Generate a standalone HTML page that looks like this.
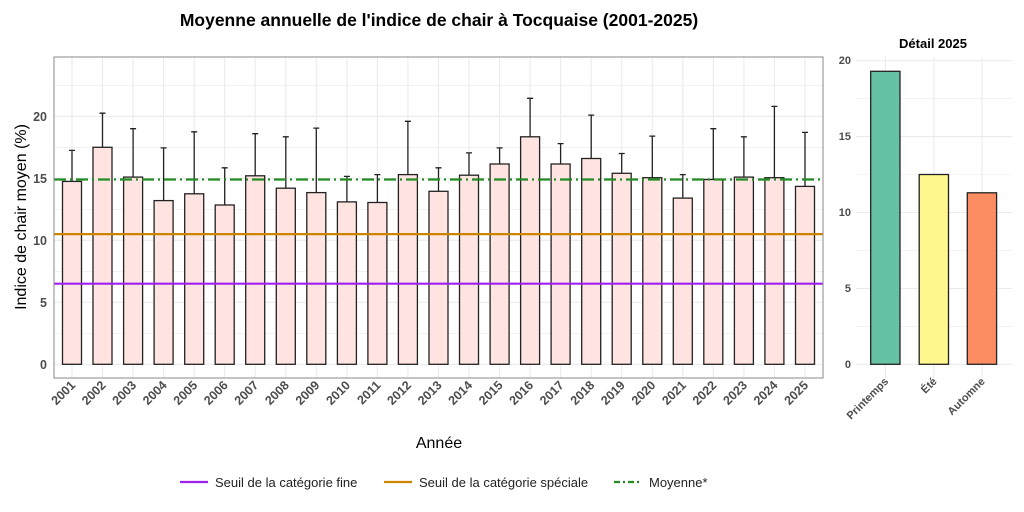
<!DOCTYPE html><html><head><meta charset="utf-8"><style>body{margin:0;background:#fff}svg{display:block;font-family:"Liberation Sans",Arial,sans-serif}</style></head><body>
<svg width="1024" height="512" viewBox="0 0 1024 512">
<text x="439" y="26" text-anchor="middle" font-size="17.5" font-weight="bold">Moyenne annuelle de l'indice de chair à Tocquaise (2001-2025)</text>
<g stroke="#ebebeb" stroke-width="0.6">
<line x1="54" x2="823" y1="333.3" y2="333.3"/><line x1="54" x2="823" y1="271.3" y2="271.3"/><line x1="54" x2="823" y1="209.3" y2="209.3"/><line x1="54" x2="823" y1="147.3" y2="147.3"/><line x1="54" x2="823" y1="85.3" y2="85.3"/>
</g>
<g stroke="#ebebeb" stroke-width="1.1">
<line x1="54" x2="823" y1="364.3" y2="364.3"/><line x1="54" x2="823" y1="302.3" y2="302.3"/><line x1="54" x2="823" y1="240.3" y2="240.3"/><line x1="54" x2="823" y1="178.3" y2="178.3"/><line x1="54" x2="823" y1="116.3" y2="116.3"/>
<line y1="57" y2="378" x1="72" x2="72"/><line y1="57" y2="378" x1="102.5" x2="102.5"/><line y1="57" y2="378" x1="133.1" x2="133.1"/><line y1="57" y2="378" x1="163.6" x2="163.6"/><line y1="57" y2="378" x1="194.2" x2="194.2"/><line y1="57" y2="378" x1="224.7" x2="224.7"/><line y1="57" y2="378" x1="255.2" x2="255.2"/><line y1="57" y2="378" x1="285.8" x2="285.8"/><line y1="57" y2="378" x1="316.3" x2="316.3"/><line y1="57" y2="378" x1="346.9" x2="346.9"/><line y1="57" y2="378" x1="377.4" x2="377.4"/><line y1="57" y2="378" x1="407.9" x2="407.9"/><line y1="57" y2="378" x1="438.5" x2="438.5"/><line y1="57" y2="378" x1="469" x2="469"/><line y1="57" y2="378" x1="499.6" x2="499.6"/><line y1="57" y2="378" x1="530.1" x2="530.1"/><line y1="57" y2="378" x1="560.6" x2="560.6"/><line y1="57" y2="378" x1="591.2" x2="591.2"/><line y1="57" y2="378" x1="621.7" x2="621.7"/><line y1="57" y2="378" x1="652.3" x2="652.3"/><line y1="57" y2="378" x1="682.8" x2="682.8"/><line y1="57" y2="378" x1="713.3" x2="713.3"/><line y1="57" y2="378" x1="743.9" x2="743.9"/><line y1="57" y2="378" x1="774.4" x2="774.4"/><line y1="57" y2="378" x1="805" x2="805"/>
</g>
<g fill="#ffe4e1" stroke="#222" stroke-width="1.3">
<rect x="62.5" y="181.4" width="19" height="182.9"/><rect x="93" y="147.3" width="19" height="217"/><rect x="123.6" y="177.1" width="19" height="187.2"/><rect x="154.1" y="200.6" width="19" height="163.7"/><rect x="184.7" y="193.8" width="19" height="170.5"/><rect x="215.2" y="205" width="19" height="159.3"/><rect x="245.7" y="175.8" width="19" height="188.5"/><rect x="276.3" y="188.2" width="19" height="176.1"/><rect x="306.8" y="192.6" width="19" height="171.7"/><rect x="337.4" y="201.9" width="19" height="162.4"/><rect x="367.9" y="202.5" width="19" height="161.8"/><rect x="398.4" y="174.6" width="19" height="189.7"/><rect x="429" y="191.3" width="19" height="173"/><rect x="459.5" y="175.2" width="19" height="189.1"/><rect x="490.1" y="164" width="19" height="200.3"/><rect x="520.6" y="136.8" width="19" height="227.5"/><rect x="551.1" y="164" width="19" height="200.3"/><rect x="581.7" y="158.5" width="19" height="205.8"/><rect x="612.2" y="173.3" width="19" height="191"/><rect x="642.8" y="177.7" width="19" height="186.6"/><rect x="673.3" y="198.1" width="19" height="166.2"/><rect x="703.8" y="179.5" width="19" height="184.8"/><rect x="734.4" y="177.1" width="19" height="187.2"/><rect x="764.9" y="177.7" width="19" height="186.6"/><rect x="795.5" y="186.4" width="19" height="177.9"/>
</g>
<g stroke="#222" stroke-width="1.3" fill="none">
<path d="M72 181.4V150.4M69 150.4h6"/><path d="M102.5 147.3V113.2M99.5 113.2h6"/><path d="M133.1 177.1V128.7M130.1 128.7h6"/><path d="M163.6 200.6V147.9M160.6 147.9h6"/><path d="M194.2 193.8V131.8M191.2 131.8h6"/><path d="M224.7 205V167.8M221.7 167.8h6"/><path d="M255.2 175.8V133.7M252.2 133.7h6"/><path d="M285.8 188.2V136.8M282.8 136.8h6"/><path d="M316.3 192.6V128.1M313.3 128.1h6"/><path d="M346.9 201.9V176.4M343.9 176.4h6"/><path d="M377.4 202.5V174.6M374.4 174.6h6"/><path d="M407.9 174.6V121.3M404.9 121.3h6"/><path d="M438.5 191.3V167.8M435.5 167.8h6"/><path d="M469 175.2V152.9M466 152.9h6"/><path d="M499.6 164V147.9M496.6 147.9h6"/><path d="M530.1 136.8V98.3M527.1 98.3h6"/><path d="M560.6 164V143.6M557.6 143.6h6"/><path d="M591.2 158.5V115.1M588.2 115.1h6"/><path d="M621.7 173.3V153.5M618.7 153.5h6"/><path d="M652.3 177.7V136.1M649.3 136.1h6"/><path d="M682.8 198.1V174.6M679.8 174.6h6"/><path d="M713.3 179.5V128.7M710.3 128.7h6"/><path d="M743.9 177.1V136.8M740.9 136.8h6"/><path d="M774.4 177.7V106.4M771.4 106.4h6"/><path d="M805 186.4V132.4M802 132.4h6"/>
</g>
<line x1="54" x2="823" y1="283.7" y2="283.7" stroke="#a020f0" stroke-width="2.2"/>
<line x1="54" x2="823" y1="234.1" y2="234.1" stroke="#cd8500" stroke-width="2.2"/>
<line x1="54" x2="823" y1="179.5" y2="179.5" stroke="#228b22" stroke-width="2.2" stroke-dasharray="12,4,2,4"/>
<rect x="54" y="57" width="769" height="321" fill="none" stroke="#8a8a8a" stroke-width="1"/>
<g font-size="12.5" font-weight="bold" fill="#4d4d4d" text-anchor="end">
<text x="47" y="369">0</text><text x="47" y="307">5</text><text x="47" y="245">10</text><text x="47" y="183">15</text><text x="47" y="121">20</text>
</g>
<g font-size="12.5" font-weight="bold" fill="#4d4d4d" text-anchor="end">
<text transform="translate(76,386) rotate(-45)">2001</text><text transform="translate(106.5,386) rotate(-45)">2002</text><text transform="translate(137.1,386) rotate(-45)">2003</text><text transform="translate(167.6,386) rotate(-45)">2004</text><text transform="translate(198.2,386) rotate(-45)">2005</text><text transform="translate(228.7,386) rotate(-45)">2006</text><text transform="translate(259.2,386) rotate(-45)">2007</text><text transform="translate(289.8,386) rotate(-45)">2008</text><text transform="translate(320.3,386) rotate(-45)">2009</text><text transform="translate(350.9,386) rotate(-45)">2010</text><text transform="translate(381.4,386) rotate(-45)">2011</text><text transform="translate(411.9,386) rotate(-45)">2012</text><text transform="translate(442.5,386) rotate(-45)">2013</text><text transform="translate(473,386) rotate(-45)">2014</text><text transform="translate(503.6,386) rotate(-45)">2015</text><text transform="translate(534.1,386) rotate(-45)">2016</text><text transform="translate(564.6,386) rotate(-45)">2017</text><text transform="translate(595.2,386) rotate(-45)">2018</text><text transform="translate(625.7,386) rotate(-45)">2019</text><text transform="translate(656.3,386) rotate(-45)">2020</text><text transform="translate(686.8,386) rotate(-45)">2021</text><text transform="translate(717.3,386) rotate(-45)">2022</text><text transform="translate(747.9,386) rotate(-45)">2023</text><text transform="translate(778.4,386) rotate(-45)">2024</text><text transform="translate(809,386) rotate(-45)">2025</text>
</g>
<text x="439" y="448" text-anchor="middle" font-size="16">Année</text>
<text transform="translate(26,217) rotate(-90)" text-anchor="middle" font-size="16">Indice de chair moyen (%)</text>
<text x="933" y="48" text-anchor="middle" font-size="13" font-weight="bold">Détail 2025</text>
<g stroke="#ebebeb" stroke-width="0.6"><line x1="856" x2="1012" y1="326.3" y2="326.3"/><line x1="856" x2="1012" y1="250.4" y2="250.4"/><line x1="856" x2="1012" y1="174.5" y2="174.5"/><line x1="856" x2="1012" y1="98.6" y2="98.6"/></g>
<g stroke="#ebebeb" stroke-width="1.1"><line x1="856" x2="1012" y1="364.3" y2="364.3"/><line x1="856" x2="1012" y1="288.4" y2="288.4"/><line x1="856" x2="1012" y1="212.5" y2="212.5"/><line x1="856" x2="1012" y1="136.6" y2="136.6"/><line x1="856" x2="1012" y1="60.7" y2="60.7"/><line x1="885.4" x2="885.4" y1="57" y2="378"/><line x1="933.9" x2="933.9" y1="57" y2="378"/><line x1="982" x2="982" y1="57" y2="378"/></g>
<g stroke="#222" stroke-width="1.3"><rect x="870.7" y="71.3" width="29.3" height="293" fill="#66c2a5"/><rect x="919.2" y="174.5" width="29.3" height="189.8" fill="#fff68f"/><rect x="967.3" y="192.8" width="29.3" height="171.5" fill="#fc8d62"/></g>
<g font-size="11" font-weight="bold" fill="#4d4d4d" text-anchor="end"><text x="851" y="368">0</text><text x="851" y="292">5</text><text x="851" y="216">10</text><text x="851" y="140">15</text><text x="851" y="64">20</text></g>
<g font-size="11" font-weight="bold" fill="#4d4d4d" text-anchor="end"><text transform="translate(889,382) rotate(-45)">Printemps</text><text transform="translate(937.5,382) rotate(-45)">Été</text><text transform="translate(985.6,382) rotate(-45)">Automne</text></g>
<g font-size="13" fill="#222">
<line x1="180" x2="208" y1="482" y2="482" stroke="#a020f0" stroke-width="2.2"/><text x="215" y="487">Seuil de la catégorie fine</text>
<line x1="384" x2="412" y1="482" y2="482" stroke="#cd8500" stroke-width="2.2"/><text x="419" y="487">Seuil de la catégorie spéciale</text>
<line x1="614" x2="642" y1="482" y2="482" stroke="#228b22" stroke-width="2.2" stroke-dasharray="6,3,2,3"/><text x="649" y="487">Moyenne*</text>
</g>
</svg></body></html>
